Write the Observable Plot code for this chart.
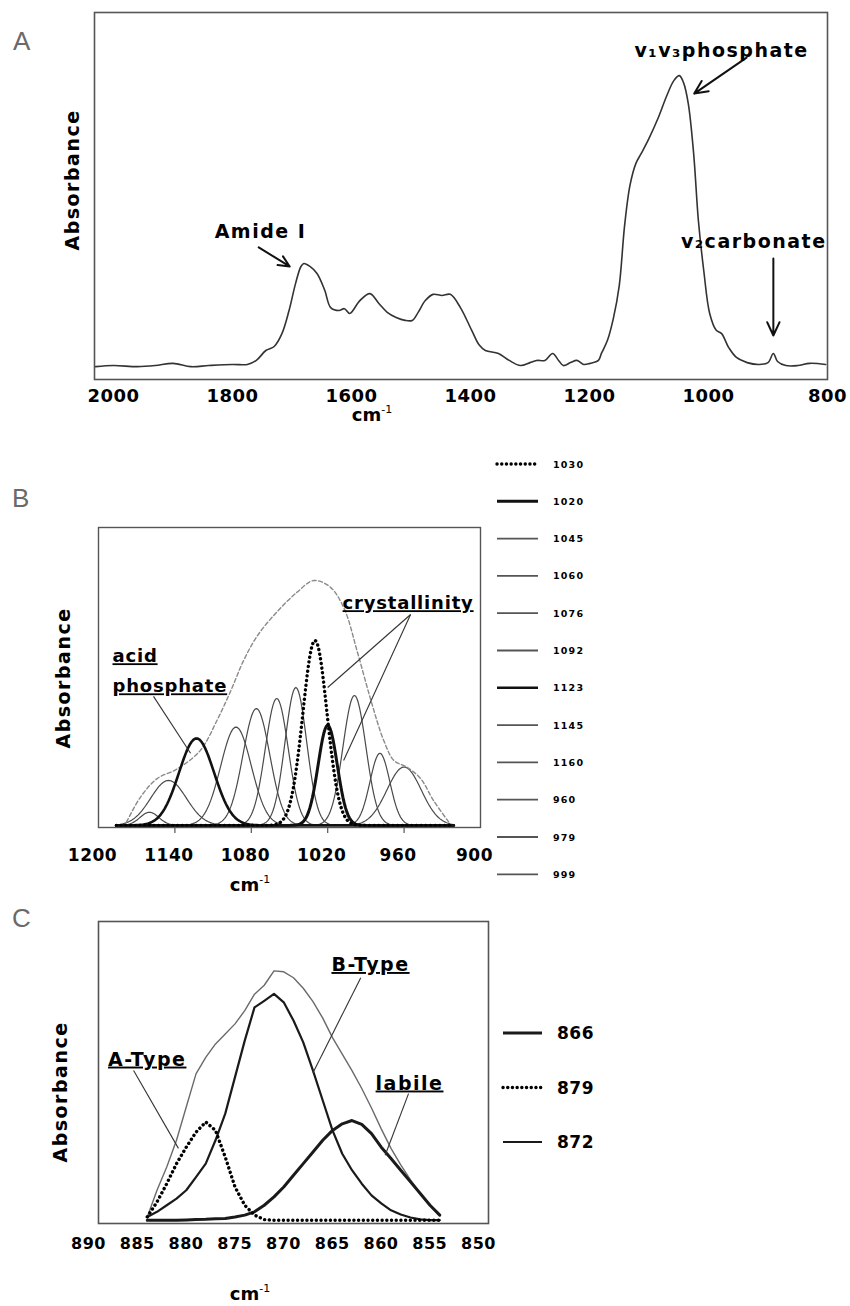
<!DOCTYPE html>
<html>
<head>
<meta charset="utf-8">
<title>FTIR spectra of bone mineral</title>
<script src="https://cdn.jsdelivr.net/npm/d3@7"></script>
<script src="https://cdn.jsdelivr.net/npm/@observablehq/plot@0.6"></script>
<style>
  html, body { margin: 0; padding: 0; background: #fff; }
  #fig { position: relative; width: 850px; height: 1306px; overflow: hidden; background: #fff; }
</style>
</head>
<body>
<div id="fig"></div>
<script>
// ---------- Panel A: full mid-IR spectrum ----------
const specWavenumber = [2030, 2000, 1960, 1930, 1900, 1870, 1840, 1800, 1775, 1760,
  1744, 1730, 1717, 1705, 1694, 1685, 1680, 1670, 1658, 1645,
  1635, 1621, 1612, 1603, 1586, 1569, 1554, 1540, 1525, 1510,
  1498, 1488, 1476, 1463, 1448, 1434, 1417, 1398, 1385, 1375,
  1353, 1335, 1316, 1300, 1289, 1275, 1262, 1252, 1244, 1232,
  1221, 1210, 1199, 1185, 1180, 1170, 1160, 1150, 1141, 1132,
  1122, 1113, 1100, 1085, 1070, 1058, 1049, 1042, 1034, 1025,
  1017, 1008, 998, 987, 978, 966, 953, 935, 915, 900,
  891, 884, 870, 850, 830, 803];
const specAbsorbance = [0.035, 0.038, 0.035, 0.038, 0.044, 0.035, 0.038, 0.041, 0.041, 0.052,
  0.079, 0.090, 0.125, 0.188, 0.262, 0.308, 0.316, 0.308, 0.289, 0.243,
  0.196, 0.188, 0.193, 0.180, 0.215, 0.234, 0.207, 0.183, 0.169, 0.161,
  0.161, 0.183, 0.215, 0.232, 0.229, 0.232, 0.196, 0.134, 0.093, 0.079,
  0.071, 0.052, 0.038, 0.046, 0.052, 0.052, 0.071, 0.052, 0.038, 0.046,
  0.052, 0.041, 0.044, 0.052, 0.071, 0.106, 0.166, 0.256, 0.420, 0.529,
  0.589, 0.616, 0.657, 0.711, 0.774, 0.815, 0.828, 0.809, 0.752, 0.616,
  0.433, 0.297, 0.180, 0.134, 0.125, 0.087, 0.060, 0.046, 0.041, 0.046,
  0.071, 0.049, 0.038, 0.038, 0.044, 0.041];
const specTicks = [2000, 1800, 1600, 1400, 1200, 1000, 800];

// ---------- Panel B: v1v3 phosphate sub-band fit ----------
// each component: position (cm-1, the legend label), peak height, gaussian sigma
const bandLabels = ["1030", "1020", "1045", "1060", "1076", "1092", "1123", "1145", "1160", "960", "979", "999"];
const bandHeight = [0.621, 0.336, 0.463, 0.426, 0.392, 0.330, 0.292, 0.151, 0.044, 0.196, 0.242, 0.436];
const bandWidth  = [9.5, 7.5, 8.5, 9.0, 10.5, 12.0, 13.8, 14.0, 7.4, 13.5, 7.8, 9.0];
// measured band (dashed envelope)
const envWavenumber = [1178, 1167, 1154, 1138, 1120, 1107, 1096, 1086, 1075, 1060, 1044,
  1031, 1018, 1007, 997, 986, 976, 968, 958, 947, 937, 924];
const envAbsorbance = [0.011, 0.095, 0.157, 0.190, 0.252, 0.352, 0.453, 0.554, 0.638, 0.716, 0.783,
  0.822, 0.800, 0.727, 0.587, 0.419, 0.285, 0.218, 0.196, 0.157, 0.084, 0.006];
const bandTicks = [1200, 1140, 1080, 1020, 960, 900];

// ---------- Panel C: v2 carbonate band ----------
const carbWavenumber = [885, 884, 883, 882, 881, 880, 879, 878, 877, 876, 875, 874, 873, 872, 871,
  870, 869, 868, 867, 866, 865, 864, 863, 862, 861, 860, 859, 858, 857, 856, 855];
const carbEnvelope = [1.1, 10, 17.8, 26.7, 37.8, 48.9, 54.4, 58.9, 62.2, 65.6, 70, 75.5, 78.5, 83.3, 83,
  81, 77.5, 73, 67.5, 61, 55.5, 50, 44, 37.5, 30.5, 24, 18.5, 13.5, 9, 5, 1.7];
const carbLabile = [0, 0, 0, 0, 0.1, 0.2, 0.3, 0.5, 0.6, 1.1, 1.7, 2.8, 5, 7.8, 11.1,
  15, 18.9, 22.8, 26.7, 30, 32.2, 33.3, 32, 28.9, 24.4, 20.6, 16.7, 12.8, 8.9, 5, 1.7];
const carbAType = [1.1, 6.1, 12.2, 18.9, 24.4, 29.4, 32.8, 30, 21.1, 11.1, 5, 1.7, 0.2, 0, 0,
  0, 0, 0, 0, 0, 0, 0, 0, 0, 0, 0, 0, 0, 0, 0, 0];
const carbBType = [1.1, 2.8, 5, 7.2, 10, 14.4, 18.9, 26.7, 35.6, 47.8, 60, 71.1, 73.3, 75.6, 72.8,
  66.7, 59.4, 50, 40, 30, 22.2, 16.7, 12.2, 8.3, 5.6, 3.3, 1.9, 0.9, 0.3, 0, 0];
const carbLabels = ["866", "879", "872"];
const carbTicks = [890, 885, 880, 875, 870, 865, 860, 855, 850];

// ---------- helpers ----------
const FONT = "'DejaVu Sans', Verdana, sans-serif";
const svgStyle = `font-family: ${FONT}; color: #000; background: transparent; overflow: visible; letter-spacing: 0.5px;`;
const plain = d => String(d);
const fig = document.getElementById("fig");

function place(node, top) {
  node.style.position = "absolute";
  node.style.left = "0px";
  node.style.top = top + "px";
  fig.appendChild(node);
  return node;
}
// tracking (and optional underline) for the callout labels
function dressLabels(svg, names, spacing, underline) {
  d3.select(svg).selectAll("text")
    .filter(function () { return names.includes(this.textContent); })
    .style("letter-spacing", spacing + "px")
    .style("text-decoration", underline ? "underline" : null);
}

// dotted stroke used for the highlighted component
const dotted = {strokeWidth: 3.4, strokeDasharray: "0.1,4.6", strokeLinecap: "round"};

// ---------- Panel A ----------
const spec = specWavenumber.map((w, i) => ({w, a: specAbsorbance[i]}));
const calloutsA = [
  {x: 1753, y: 0.403, t: "Amide I"},
  {x: 978, y: 0.896, t: "v\u2081v\u2083phosphate"},
  {x: 924, y: 0.376, t: "v\u2082carbonate"}
];
const plotA = Plot.plot({
  width: 850, height: 430,
  marginTop: 12, marginBottom: 51, marginLeft: 94, marginRight: 23,
  style: svgStyle,
  x: {domain: [2032, 800], label: null},
  y: {domain: [0, 1], axis: null},
  marks: [
    Plot.frame({stroke: "#555", strokeWidth: 1.6}),
    Plot.line(spec, {x: "w", y: "a", stroke: "#333", strokeWidth: 1.6, curve: "catmull-rom"}),
    Plot.axisX(specTicks, {tickSize: 0, tickPadding: 10, tickFormat: plain, fontSize: 18, fontWeight: "bold", label: null}),
    Plot.arrow([
      {x1: 1756, y1: 0.360, x2: 1704, y2: 0.308},
      {x1: 936, y1: 0.877, x2: 1024, y2: 0.779},
      {x1: 891, y1: 0.330, x2: 891, y2: 0.120}
    ], {x1: "x1", y1: "y1", x2: "x2", y2: "y2", stroke: "#111", strokeWidth: 2, headLength: 11, headAngle: 50}),
    Plot.text(calloutsA, {x: "x", y: "y", text: "t", fontSize: 19, fontWeight: "bold"})
  ]
});
dressLabels(plotA, calloutsA.map(d => d.t), 1.5, false);
place(plotA, 0);

// ---------- Panel B ----------
const bandGrid = d3.range(1186, 920, -1);
const bandRows = bandLabels.map((label, i) => {
  const c = Number(label), h = bandHeight[i], s = bandWidth[i];
  return bandGrid.map(w => ({label, w, a: h * Math.exp(-0.5 * ((w - c) / s) ** 2)}));
});
const bandStyle = {
  "1030": {stroke: "#000", ...dotted},
  "1020": {stroke: "#111", strokeWidth: 3},
  "1123": {stroke: "#111", strokeWidth: 2.6}
};
const thinStyle = {stroke: "#4a4a4a", strokeWidth: 1.2};
const env = envWavenumber.map((w, i) => ({w, a: envAbsorbance[i]}));
const thinBands = bandLabels.map((l, i) => [l, i]).filter(([l]) => !bandStyle[l]);
const boldBands = ["1123", "1020", "1030"].map(l => [l, bandLabels.indexOf(l)]);
const calloutsB = [
  {x: 1189, y: 0.567, t: "acid"},
  {x: 1189, y: 0.466, t: "phosphate"},
  {x: 1008.3, y: 0.745, t: "crystallinity"}
];

const plotB = Plot.plot({
  width: 850, height: 470,
  marginTop: 97, marginBottom: 73, marginLeft: 98, marginRight: 370,
  style: svgStyle,
  x: {domain: [1200, 900], label: null},
  y: {domain: [-0.007, 1], axis: null},
  marks: [
    ...thinBands.map(([l, i]) => Plot.line(bandRows[i], {x: "w", y: "a", ...thinStyle})),
    Plot.line(env, {x: "w", y: "a", stroke: "#8a8a8a", strokeWidth: 1.4, strokeDasharray: "4,2.5", curve: "catmull-rom"}),
    ...boldBands.map(([l, i]) => Plot.line(bandRows[i], {x: "w", y: "a", ...bandStyle[l]})),
    Plot.frame({stroke: "#555", strokeWidth: 1.4}),
    Plot.tickX(bandTicks.slice(1, -1), {x: d => d, insetTop: 300, insetBottom: -6, stroke: "#555", strokeWidth: 1.2}),
    Plot.axisX(bandTicks, {tickSize: 0, tickPadding: 21, dx: -6, tickFormat: plain, fontSize: 17, fontWeight: "bold", label: null}),
    Plot.link([
      {x1: 1156.8, y1: 0.433, x2: 1127.7, y2: 0.242},
      {x1: 954.9, y1: 0.708, x2: 1020, y2: 0.463},
      {x1: 954.9, y1: 0.708, x2: 1007.5, y2: 0.218}
    ], {x1: "x1", y1: "y1", x2: "x2", y2: "y2", stroke: "#333", strokeWidth: 1.1}),
    Plot.text(calloutsB, {x: "x", y: "y", text: "t", textAnchor: "start", fontSize: 18, fontWeight: "bold"})
  ]
});
dressLabels(plotB, calloutsB.map(d => d.t), 0.8, true);
place(plotB, 430);

// ---------- Panel C ----------
const carbSeries = {
  env: carbWavenumber.map((w, i) => ({w, a: carbEnvelope[i]})),
  "866": carbWavenumber.map((w, i) => ({w, a: carbLabile[i]})),
  "879": carbWavenumber.map((w, i) => ({w, a: carbAType[i]})),
  "872": carbWavenumber.map((w, i) => ({w, a: carbBType[i]}))
};
const carbStyle = {
  "866": {stroke: "#1a1a1a", strokeWidth: 3},
  "879": {stroke: "#000", ...dotted},
  "872": {stroke: "#1a1a1a", strokeWidth: 2.2}
};
const calloutsC = [
  {x: 885, y: 53.7, t: "A-Type"},
  {x: 862.1, y: 85.3, t: "B-Type"},
  {x: 858.1, y: 45.7, t: "labile"}
];

const plotC = Plot.plot({
  width: 850, height: 406,
  marginTop: 21, marginBottom: 83, marginLeft: 98, marginRight: 362,
  style: svgStyle,
  x: {domain: [890, 850], label: null},
  y: {domain: [-1.1, 99.8], axis: null},
  marks: [
    Plot.frame({stroke: "#555", strokeWidth: 1.6}),
    Plot.line(carbSeries.env, {x: "w", y: "a", stroke: "#6a6a6a", strokeWidth: 1.4}),
    Plot.line(carbSeries["872"], {x: "w", y: "a", ...carbStyle["872"]}),
    Plot.line(carbSeries["866"], {x: "w", y: "a", ...carbStyle["866"]}),
    Plot.line(carbSeries["879"], {x: "w", y: "a", ...carbStyle["879"]}),
    Plot.axisX(carbTicks, {tickSize: 0, tickPadding: 14, dx: -10, tickFormat: plain, fontSize: 16, fontWeight: "bold", label: null}),
    Plot.link([
      {x1: 886.4, y1: 50, x2: 881.8, y2: 24},
      {x1: 863.1, y1: 81, x2: 868, y2: 49.3},
      {x1: 858.2, y1: 42.3, x2: 860.6, y2: 21.7}
    ], {x1: "x1", y1: "y1", x2: "x2", y2: "y2", stroke: "#333", strokeWidth: 1.1}),
    Plot.text(calloutsC, {x: "x", y: "y", text: "t", fontSize: 19, fontWeight: "bold"})
  ]
});
dressLabels(plotC, calloutsC.map(d => d.t), 1.5, true);
place(plotC, 900);

// ---------- panel letters, axis titles, legends ----------
const ov = d3.create("svg")
  .attr("width", 850).attr("height", 1306)
  .attr("font-family", FONT)
  .style("position", "absolute").style("left", "0px").style("top", "0px")
  .style("pointer-events", "none");

[["A", 13, 50], ["B", 12, 507], ["C", 12, 927]].forEach(([t, x, y]) => {
  ov.append("text").attr("x", x).attr("y", y)
    .attr("font-family", "'Liberation Sans', Arial, sans-serif")
    .attr("font-size", 26).attr("fill", "#6a6a6a").text(t);
});

[[72, 180], [63, 678], [60, 1092]].forEach(([x, y]) => {
  ov.append("text")
    .attr("transform", `translate(${x},${y}) rotate(-90)`)
    .attr("text-anchor", "middle").attr("dominant-baseline", "central")
    .attr("font-size", 19).attr("font-weight", "bold").attr("letter-spacing", "1.5px")
    .text("Absorbance");
});

[[372, 421], [250, 891], [250, 1300]].forEach(([x, y]) => {
  const t = ov.append("text").attr("x", x).attr("y", y)
    .attr("text-anchor", "middle").attr("font-size", 18).attr("font-weight", "bold");
  t.append("tspan").text("cm");
  t.append("tspan").attr("dy", -8).attr("font-size", 11).attr("font-weight", "normal").text("-1");
});

function legendLine(x1, x2, y, s) {
  ov.append("line").attr("x1", x1).attr("x2", x2).attr("y1", y).attr("y2", y)
    .attr("stroke", s.stroke).attr("stroke-width", s.strokeWidth)
    .attr("stroke-dasharray", s.strokeDasharray || null)
    .attr("stroke-linecap", s.strokeLinecap || null);
}

// legend for the fitted phosphate components
const legendStyleB = l => bandStyle[l] || {stroke: "#555", strokeWidth: 1.8};
bandLabels.forEach((label, i) => {
  const y = 464 + i * 37.3;
  legendLine(497, 538, y, legendStyleB(label));
  ov.append("text").attr("x", 553).attr("y", y).attr("dominant-baseline", "central")
    .attr("font-size", 9.5).attr("font-weight", "bold").attr("letter-spacing", "1.2px")
    .text(label);
});

// legend for the carbonate components
carbLabels.forEach((label, i) => {
  const y = 1033 + i * 54.5;
  legendLine(503, 542, y, carbStyle[label]);
  ov.append("text").attr("x", 557).attr("y", y).attr("dominant-baseline", "central")
    .attr("font-size", 17).attr("font-weight", "bold").attr("letter-spacing", "0.5px")
    .text(label);
});

fig.appendChild(ov.node());
</script>
</body>
</html>
